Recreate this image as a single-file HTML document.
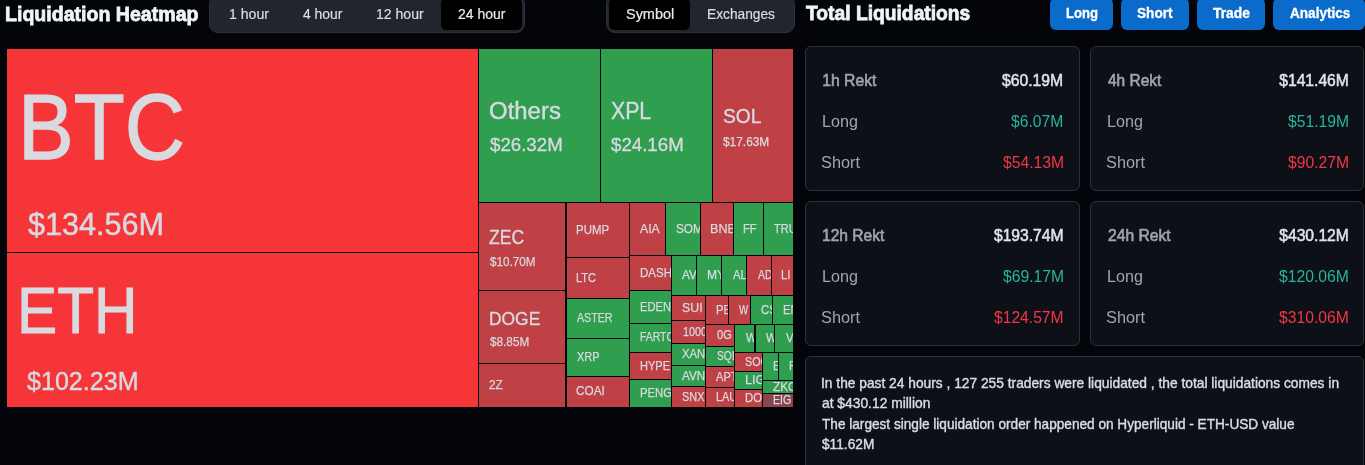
<!DOCTYPE html>
<html lang="en">
<head>
<meta charset="utf-8">
<title>Liquidation Heatmap</title>
<style>

html,body{margin:0;padding:0;background:#03050a;}
body{width:1365px;height:465px;overflow:hidden;font-family:"Liberation Sans",sans-serif;}
#page{position:relative;width:1365px;height:465px;overflow:hidden;background:#03050a;}
.t{position:absolute;display:block;white-space:pre;transform-origin:0 0;color:#d9dae0}

.h{color:#f0f4f8}
.tb{color:#dadde3}
.tb.on{color:#e8ebef}
.bt{color:#fff}
.tabs{position:absolute;top:-5.2px;height:38.1px;box-sizing:border-box;background:#22252c;border:1px solid #2e3138;border-radius:9px}
.tab{position:absolute;top:2px;height:32px;box-sizing:border-box;border-radius:5.5px}
.tab.on{background:#000}
#left,#right{position:absolute;left:0;top:0;width:0;height:0}
.hd{margin:0;font:inherit}
#tree{position:absolute;left:0;top:0;width:800px;height:465px}
.b{position:absolute;overflow:hidden}
.btn{position:absolute;top:-2.2px;height:32px;box-sizing:border-box;border-radius:6px;background:#0b6bcb;border:0;padding:0;margin:0;font:inherit;overflow:visible;cursor:pointer}
.card{position:absolute;height:144.5px;box-sizing:border-box;background:#0e1018;border:1px solid #2d3038;border-radius:6px;overflow:hidden}
.k{color:#9fa6ad}
.tv{color:#dfe2e6}
.g{color:#26b39a}
.r{color:#f23645}
.info{width:559px;height:130px}
.i{color:#dadde2}

</style>
</head>
<body>
<div id="page">
<div id="left">
<h2 class="hd"><span class="t h" style="left:5.44px;top:4.00px;font-size:20.75px;line-height:20.75px;transform:scaleX(0.9428);font-weight:700;-webkit-text-stroke-width:0.8px;">Liquidation Heatmap</span></h2>
<div class="tabs" id="tabs1" role="tablist" style="left:209.2px;width:315.7px"><div class="tab" role="tab" style="left:2.2px;width:73.5px"><span class="t tb" style="left:16.53px;top:9.20px;font-size:14.32px;line-height:14.32px;transform:scaleX(0.9850);-webkit-text-stroke-width:0.2px;">1 hour</span></div><div class="tab" role="tab" style="left:75.7px;width:73.9px"><span class="t tb" style="left:17.11px;top:9.20px;font-size:14.32px;line-height:14.32px;transform:scaleX(0.9707);-webkit-text-stroke-width:0.2px;">4 hour</span></div><div class="tab" role="tab" style="left:149.6px;width:81.2px"><span class="t tb" style="left:16.24px;top:9.20px;font-size:14.32px;line-height:14.32px;transform:scaleX(0.9823);-webkit-text-stroke-width:0.2px;">12 hour</span></div><div class="tab on" role="tab" style="left:230.8px;width:81.1px"><span class="t tb on" style="left:16.79px;top:9.20px;font-size:14.32px;line-height:14.32px;transform:scaleX(0.9749);-webkit-text-stroke-width:0.2px;">24 hour</span></div></div>
<div class="tabs" id="tabs2" role="tablist" style="left:606.0px;width:189.0px"><div class="tab on" role="tab" style="left:2.0px;width:81.0px"><span class="t tb on" style="left:17.04px;top:9.20px;font-size:14.32px;line-height:14.32px;transform:scaleX(1.0095);-webkit-text-stroke-width:0.2px;">Symbol</span></div><div class="tab" role="tab" style="left:83.0px;width:103.0px"><span class="t tb" style="left:16.69px;top:9.20px;font-size:14.32px;line-height:14.32px;transform:scaleX(0.9589);-webkit-text-stroke-width:0.2px;">Exchanges</span></div></div>
<div id="tree">
<div class="b" style="left:7px;top:49px;width:471px;height:203px;background:#f63538"><span class="t" style="left:11.00px;top:31.00px;font-size:93.51px;line-height:93.51px;transform:scaleX(0.8932);-webkit-text-stroke-width:1.3px;">BTC</span><span class="t" style="left:20.60px;top:160.00px;font-size:31.49px;line-height:31.49px;transform:scaleX(0.9712);-webkit-text-stroke-width:0.45px;">$134.56M</span></div>
<div class="b" style="left:7px;top:253px;width:471px;height:154px;background:#f63538"><span class="t" style="left:10.43px;top:25.00px;font-size:65.07px;line-height:65.07px;transform:scaleX(0.9254);-webkit-text-stroke-width:1.0px;">ETH</span><span class="t" style="left:20.33px;top:116.00px;font-size:25.88px;line-height:25.88px;transform:scaleX(0.9692);-webkit-text-stroke-width:0.4px;">$102.23M</span></div>
<div class="b" style="left:479px;top:49px;width:121px;height:153px;background:#2f9e4f"><span class="t" style="left:10.20px;top:51.00px;font-size:23.71px;line-height:23.71px;transform:scaleX(1.0102);-webkit-text-stroke-width:0.4px;">Others</span><span class="t" style="left:11.05px;top:87.00px;font-size:18.29px;line-height:18.29px;transform:scaleX(1.0220);-webkit-text-stroke-width:0.3px;">$26.32M</span></div>
<div class="b" style="left:601px;top:49px;width:111px;height:153px;background:#2f9e4f"><span class="t" style="left:9.85px;top:51.00px;font-size:23.42px;line-height:23.42px;transform:scaleX(0.9084);-webkit-text-stroke-width:0.4px;">XPL</span><span class="t" style="left:10.45px;top:87.00px;font-size:18.29px;line-height:18.29px;transform:scaleX(1.0220);-webkit-text-stroke-width:0.3px;">$24.16M</span></div>
<div class="b" style="left:713px;top:49px;width:80px;height:153px;background:#bf4045"><span class="t" style="left:9.79px;top:57.00px;font-size:20.42px;line-height:20.42px;transform:scaleX(0.9409);-webkit-text-stroke-width:0.35px;">SOL</span><span class="t" style="left:10.09px;top:87.00px;font-size:12.25px;line-height:12.25px;transform:scaleX(0.9705);-webkit-text-stroke-width:0.25px;">$17.63M</span></div>
<div class="b" style="left:479px;top:203px;width:86px;height:87px;background:#bf4045"><span class="t" style="left:10.43px;top:25.00px;font-size:19.41px;line-height:19.41px;transform:scaleX(0.9045);-webkit-text-stroke-width:0.35px;">ZEC</span><span class="t" style="left:11.00px;top:53.00px;font-size:12.1px;line-height:12.1px;transform:scaleX(0.9651);-webkit-text-stroke-width:0.25px;">$10.70M</span></div>
<div class="b" style="left:479px;top:291px;width:86px;height:72px;background:#bf4045"><span class="t" style="left:10.06px;top:19.00px;font-size:18.68px;line-height:18.68px;transform:scaleX(0.9320);-webkit-text-stroke-width:0.35px;">DOGE</span><span class="t" style="left:10.79px;top:45.00px;font-size:12.1px;line-height:12.1px;transform:scaleX(0.9723);-webkit-text-stroke-width:0.25px;">$8.85M</span></div>
<div class="b" style="left:479px;top:364px;width:86px;height:43px;background:#bf4045"><span class="t" style="left:10.02px;top:16.00px;font-size:11.96px;line-height:11.96px;transform:scaleX(0.9845);-webkit-text-stroke-width:0.25px;">2Z</span></div>
<div class="b" style="left:567px;top:203px;width:62px;height:54px;background:#bf4045"><span class="t" style="left:9.00px;top:22.00px;font-size:11.96px;line-height:11.96px;transform:scaleX(0.9565);-webkit-text-stroke-width:0.25px;">PUMP</span></div>
<div class="b" style="left:567px;top:258px;width:62px;height:40px;background:#bf4045"><span class="t" style="left:9.04px;top:15.00px;font-size:11.96px;line-height:11.96px;transform:scaleX(0.9163);-webkit-text-stroke-width:0.25px;">LTC</span></div>
<div class="b" style="left:567px;top:299px;width:62px;height:39px;background:#2f9e4f"><span class="t" style="left:9.86px;top:14.00px;font-size:11.96px;line-height:11.96px;transform:scaleX(0.8890);-webkit-text-stroke-width:0.25px;">ASTER</span></div>
<div class="b" style="left:567px;top:339px;width:62px;height:37px;background:#2f9e4f"><span class="t" style="left:9.64px;top:13.00px;font-size:11.96px;line-height:11.96px;transform:scaleX(0.9153);-webkit-text-stroke-width:0.25px;">XRP</span></div>
<div class="b" style="left:567px;top:377px;width:62px;height:30px;background:#bf4045"><span class="t" style="left:9.32px;top:9.00px;font-size:11.96px;line-height:11.96px;transform:scaleX(0.9858);-webkit-text-stroke-width:0.25px;">COAI</span></div>
<div class="b" style="left:630px;top:203px;width:35px;height:52px;background:#bf4045"><span class="t" style="left:10.25px;top:21.00px;font-size:11.96px;line-height:11.96px;transform:scaleX(1.0250);-webkit-text-stroke-width:0.25px;">AIA</span></div>
<div class="b" style="left:666px;top:203px;width:34px;height:52px;background:#2f9e4f"><span class="t" style="left:10.18px;top:21.00px;font-size:11.96px;line-height:11.96px;transform:scaleX(0.9858);-webkit-text-stroke-width:0.25px;">SOM</span></div>
<div class="b" style="left:701px;top:203px;width:32px;height:52px;background:#bf4045"><span class="t" style="left:9.31px;top:21.00px;font-size:11.96px;line-height:11.96px;transform:scaleX(1.0519);-webkit-text-stroke-width:0.25px;">BNB</span></div>
<div class="b" style="left:734px;top:203px;width:29px;height:52px;background:#2f9e4f"><span class="t" style="left:9.22px;top:21.00px;font-size:11.96px;line-height:11.96px;transform:scaleX(0.9364);-webkit-text-stroke-width:0.25px;">FF</span></div>
<div class="b" style="left:764px;top:203px;width:29px;height:52px;background:#2f9e4f"><span class="t" style="left:10.29px;top:21.00px;font-size:11.96px;line-height:11.96px;transform:scaleX(0.9237);-webkit-text-stroke-width:0.25px;">TRU</span></div>
<div class="b" style="left:630px;top:256px;width:41px;height:34px;background:#bf4045"><span class="t" style="left:10.09px;top:12.00px;font-size:11.96px;line-height:11.96px;transform:scaleX(0.9630);-webkit-text-stroke-width:0.25px;">DASH</span></div>
<div class="b" style="left:630px;top:291px;width:41px;height:32px;background:#2f9e4f"><span class="t" style="left:10.12px;top:11.00px;font-size:11.96px;line-height:11.96px;transform:scaleX(0.9343);-webkit-text-stroke-width:0.25px;">EDEN</span></div>
<div class="b" style="left:630px;top:324px;width:41px;height:28px;background:#2f9e4f"><span class="t" style="left:10.18px;top:8.00px;font-size:11.96px;line-height:11.96px;transform:scaleX(0.8713);-webkit-text-stroke-width:0.25px;">FARTC</span></div>
<div class="b" style="left:630px;top:353px;width:41px;height:26px;background:#bf4045"><span class="t" style="left:10.13px;top:8.00px;font-size:11.96px;line-height:11.96px;transform:scaleX(0.9221);-webkit-text-stroke-width:0.25px;">HYPE</span></div>
<div class="b" style="left:630px;top:380px;width:41px;height:27px;background:#2f9e4f"><span class="t" style="left:10.11px;top:8.00px;font-size:11.96px;line-height:11.96px;transform:scaleX(0.9475);-webkit-text-stroke-width:0.25px;">PENG</span></div>
<div class="b" style="left:672px;top:256px;width:24px;height:39px;background:#2f9e4f"><span class="t" style="left:9.85px;top:14.00px;font-size:11.96px;line-height:11.96px;transform:scaleX(0.9816);-webkit-text-stroke-width:0.25px;">AV</span></div>
<div class="b" style="left:697px;top:256px;width:24px;height:39px;background:#2f9e4f"><span class="t" style="left:9.95px;top:14.00px;font-size:11.96px;line-height:11.96px;transform:scaleX(1.0077);-webkit-text-stroke-width:0.25px;">MY</span></div>
<div class="b" style="left:722px;top:256px;width:24px;height:39px;background:#2f9e4f"><span class="t" style="left:10.86px;top:14.00px;font-size:11.96px;line-height:11.96px;transform:scaleX(0.9437);-webkit-text-stroke-width:0.25px;">AL</span></div>
<div class="b" style="left:747px;top:256px;width:24px;height:39px;background:#bf4045"><span class="t" style="left:10.76px;top:14.00px;font-size:11.96px;line-height:11.96px;transform:scaleX(0.8710);-webkit-text-stroke-width:0.25px;">AD</span></div>
<div class="b" style="left:772px;top:256px;width:21px;height:39px;background:#bf4045"><span class="t" style="left:9.01px;top:14.00px;font-size:11.96px;line-height:11.96px;transform:scaleX(0.9398);-webkit-text-stroke-width:0.25px;">LI</span></div>
<div class="b" style="left:672px;top:296px;width:33px;height:24px;background:#bf4045"><span class="t" style="left:9.56px;top:7.00px;font-size:11.96px;line-height:11.96px;transform:scaleX(1.0315);-webkit-text-stroke-width:0.25px;">SUI</span></div>
<div class="b" style="left:672px;top:321px;width:33px;height:22px;background:#bf4045"><span class="t" style="left:10.71px;top:6.00px;font-size:11.96px;line-height:11.96px;transform:scaleX(0.8966);-webkit-text-stroke-width:0.25px;">1000</span></div>
<div class="b" style="left:672px;top:344px;width:33px;height:21px;background:#2f9e4f"><span class="t" style="left:10.03px;top:5.00px;font-size:11.96px;line-height:11.96px;transform:scaleX(0.9465);-webkit-text-stroke-width:0.25px;">XAN</span></div>
<div class="b" style="left:672px;top:366px;width:33px;height:20px;background:#2f9e4f"><span class="t" style="left:10.25px;top:5.00px;font-size:11.96px;line-height:11.96px;transform:scaleX(0.9740);-webkit-text-stroke-width:0.25px;">AVN</span></div>
<div class="b" style="left:672px;top:387px;width:33px;height:20px;background:#bf4045"><span class="t" style="left:10.12px;top:5.00px;font-size:11.96px;line-height:11.96px;transform:scaleX(0.9149);-webkit-text-stroke-width:0.25px;">SNX</span></div>
<div class="b" style="left:706px;top:296px;width:22px;height:28px;background:#bf4045"><span class="t" style="left:10.40px;top:9.00px;font-size:11.96px;line-height:11.96px;transform:scaleX(0.9500);-webkit-text-stroke-width:0.25px;">PE</span></div>
<div class="b" style="left:729px;top:296px;width:21px;height:28px;background:#bf4045"><span class="t" style="left:9.76px;top:9.00px;font-size:11.96px;line-height:11.96px;transform:scaleX(0.8115);-webkit-text-stroke-width:0.25px;">W</span></div>
<div class="b" style="left:751px;top:296px;width:21px;height:28px;background:#2f9e4f"><span class="t" style="left:9.64px;top:9.00px;font-size:11.96px;line-height:11.96px;transform:scaleX(0.9500);-webkit-text-stroke-width:0.25px;">CS</span></div>
<div class="b" style="left:773px;top:296px;width:20px;height:28px;background:#2f9e4f"><span class="t" style="left:9.70px;top:9.00px;font-size:11.96px;line-height:11.96px;transform:scaleX(0.9500);-webkit-text-stroke-width:0.25px;">EN</span></div>
<div class="b" style="left:706px;top:325px;width:28px;height:21px;background:#bf4045"><span class="t" style="left:10.87px;top:5.00px;font-size:11.96px;line-height:11.96px;transform:scaleX(0.9235);-webkit-text-stroke-width:0.25px;">0G</span></div>
<div class="b" style="left:706px;top:347px;width:28px;height:19px;background:#2f9e4f"><span class="t" style="left:10.55px;top:4.00px;font-size:11.96px;line-height:11.96px;transform:scaleX(0.8623);-webkit-text-stroke-width:0.25px;">SQD</span></div>
<div class="b" style="left:706px;top:367px;width:28px;height:20px;background:#bf4045"><span class="t" style="left:10.46px;top:5.00px;font-size:11.96px;line-height:11.96px;transform:scaleX(0.9259);-webkit-text-stroke-width:0.25px;">APT</span></div>
<div class="b" style="left:706px;top:388px;width:28px;height:19px;background:#bf4045"><span class="t" style="left:10.14px;top:4.00px;font-size:11.96px;line-height:11.96px;transform:scaleX(0.9076);-webkit-text-stroke-width:0.25px;">LAU</span></div>
<div class="b" style="left:735px;top:325px;width:19px;height:27px;background:#2f9e4f"><span class="t" style="left:10.76px;top:8.00px;font-size:11.96px;line-height:11.96px;transform:scaleX(0.9500);-webkit-text-stroke-width:0.25px;">W</span></div>
<div class="b" style="left:756px;top:325px;width:18px;height:27px;background:#2f9e4f"><span class="t" style="left:9.76px;top:8.00px;font-size:11.96px;line-height:11.96px;transform:scaleX(0.9500);-webkit-text-stroke-width:0.25px;">W</span></div>
<div class="b" style="left:775px;top:325px;width:18px;height:27px;background:#2f9e4f"><span class="t" style="left:10.76px;top:8.00px;font-size:11.96px;line-height:11.96px;transform:scaleX(0.9500);-webkit-text-stroke-width:0.25px;">V</span></div>
<div class="b" style="left:735px;top:353px;width:27px;height:18px;background:#bf4045"><span class="t" style="left:10.33px;top:4.00px;font-size:11.96px;line-height:11.96px;transform:scaleX(0.8994);-webkit-text-stroke-width:0.25px;">SOO</span></div>
<div class="b" style="left:735px;top:372px;width:27px;height:17px;background:#2f9e4f"><span class="t" style="left:10.09px;top:3.00px;font-size:11.96px;line-height:11.96px;transform:scaleX(1.0656);-webkit-text-stroke-width:0.25px;">LIG</span></div>
<div class="b" style="left:735px;top:390px;width:27px;height:17px;background:#bf4045"><span class="t" style="left:10.20px;top:3.00px;font-size:11.96px;line-height:11.96px;transform:scaleX(0.9500);-webkit-text-stroke-width:0.25px;">DO</span></div>
<div class="b" style="left:763px;top:353px;width:15px;height:27px;background:#2f9e4f"><span class="t" style="left:10.20px;top:8.00px;font-size:11.96px;line-height:11.96px;transform:scaleX(0.9500);-webkit-text-stroke-width:0.25px;">E</span></div>
<div class="b" style="left:779px;top:353px;width:14px;height:27px;background:#2f9e4f"><span class="t" style="left:9.70px;top:8.00px;font-size:11.96px;line-height:11.96px;transform:scaleX(0.9500);-webkit-text-stroke-width:0.25px;">F</span></div>
<div class="b" style="left:763px;top:381px;width:30px;height:12px;background:#2f9e4f"><span class="t" style="left:10.16px;top:1.00px;font-size:11.96px;line-height:11.96px;transform:scaleX(0.9868);-webkit-text-stroke-width:0.25px;">ZKC</span></div>
<div class="b" style="left:763px;top:394px;width:30px;height:13px;background:#8b444e"><span class="t" style="left:10.36px;top:1.00px;font-size:11.96px;line-height:11.96px;transform:scaleX(0.8928);-webkit-text-stroke-width:0.25px;">EIG</span></div>
</div>
</div>
<div id="right">
<h2 class="hd"><span class="t h" style="left:805.82px;top:3.00px;font-size:20.75px;line-height:20.75px;transform:scaleX(0.9277);font-weight:700;-webkit-text-stroke-width:0.8px;">Total Liquidations</span></h2>
<button type="button" class="btn" style="left:1050px;width:63px"><span class="t bt" style="left:16.18px;top:8.20px;font-size:14.09px;line-height:14.09px;transform:scaleX(0.9319);font-weight:700;-webkit-text-stroke-width:0.3px;">Long</span></button>
<button type="button" class="btn" style="left:1121px;width:68px"><span class="t bt" style="left:15.83px;top:8.20px;font-size:14.09px;line-height:14.09px;transform:scaleX(0.9674);font-weight:700;-webkit-text-stroke-width:0.3px;">Short</span></button>
<button type="button" class="btn" style="left:1197px;width:68px"><span class="t bt" style="left:15.70px;top:8.20px;font-size:14.09px;line-height:14.09px;transform:scaleX(0.9850);font-weight:700;-webkit-text-stroke-width:0.3px;">Trade</span></button>
<button type="button" class="btn" style="left:1273px;width:92px"><span class="t bt" style="left:16.50px;top:8.20px;font-size:14.09px;line-height:14.09px;transform:scaleX(0.9646);font-weight:700;-webkit-text-stroke-width:0.3px;">Analytics</span></button>
<div class="card" style="left:805px;top:46px;width:275px"><span class="t k kt" style="left:16.29px;top:26.00px;font-size:15.71px;line-height:15.71px;-webkit-text-stroke-width:0.6px;">1h Rekt</span><span class="t k" style="left:15.71px;top:66.00px;font-size:16.23px;line-height:16.23px;transform:scaleX(0.9953);">Long</span><span class="t k" style="left:15.47px;top:107.00px;font-size:16.23px;line-height:16.23px;transform:scaleX(1.0058);">Short</span><span class="t tv" style="left:196.37px;top:26.00px;font-size:15.65px;line-height:15.65px;transform:scaleX(1.0030);-webkit-text-stroke-width:0.5px;">$60.19M</span><span class="t g" style="left:205.44px;top:66.00px;font-size:16.09px;line-height:16.09px;transform:scaleX(0.9730);">$6.07M</span><span class="t r" style="left:196.54px;top:107.00px;font-size:16.09px;line-height:16.09px;transform:scaleX(0.9764);">$54.13M</span></div>
<div class="card" style="left:1090px;top:46px;width:274px"><span class="t k kt" style="left:17.16px;top:26.00px;font-size:15.71px;line-height:15.71px;transform:scaleX(0.9838);-webkit-text-stroke-width:0.6px;">4h Rekt</span><span class="t k" style="left:15.71px;top:66.00px;font-size:16.23px;line-height:16.23px;transform:scaleX(0.9953);">Long</span><span class="t k" style="left:15.47px;top:107.00px;font-size:16.23px;line-height:16.23px;transform:scaleX(1.0058);">Short</span><span class="t tv" style="left:188.27px;top:26.00px;font-size:15.65px;line-height:15.65px;-webkit-text-stroke-width:0.5px;">$141.46M</span><span class="t g" style="left:197.04px;top:66.00px;font-size:16.09px;line-height:16.09px;transform:scaleX(0.9764);">$51.19M</span><span class="t r" style="left:197.04px;top:107.00px;font-size:16.09px;line-height:16.09px;transform:scaleX(0.9764);">$90.27M</span></div>
<div class="card" style="left:805px;top:201px;width:275px"><span class="t k kt" style="left:16.30px;top:26.00px;font-size:15.71px;line-height:15.71px;transform:scaleX(0.9915);-webkit-text-stroke-width:0.6px;">12h Rekt</span><span class="t k" style="left:15.71px;top:66.00px;font-size:16.23px;line-height:16.23px;transform:scaleX(0.9953);">Long</span><span class="t k" style="left:15.47px;top:107.00px;font-size:16.23px;line-height:16.23px;transform:scaleX(1.0058);">Short</span><span class="t tv" style="left:187.97px;top:26.00px;font-size:15.65px;line-height:15.65px;-webkit-text-stroke-width:0.5px;">$193.74M</span><span class="t g" style="left:196.54px;top:66.00px;font-size:16.09px;line-height:16.09px;transform:scaleX(0.9764);">$69.17M</span><span class="t r" style="left:188.04px;top:107.00px;font-size:16.09px;line-height:16.09px;transform:scaleX(0.9733);">$124.57M</span></div>
<div class="card" style="left:1090px;top:201px;width:274px"><span class="t k kt" style="left:16.69px;top:26.00px;font-size:15.71px;line-height:15.71px;transform:scaleX(0.9965);-webkit-text-stroke-width:0.6px;">24h Rekt</span><span class="t k" style="left:15.71px;top:66.00px;font-size:16.23px;line-height:16.23px;transform:scaleX(0.9953);">Long</span><span class="t k" style="left:15.47px;top:107.00px;font-size:16.23px;line-height:16.23px;transform:scaleX(1.0058);">Short</span><span class="t tv" style="left:188.27px;top:26.00px;font-size:15.65px;line-height:15.65px;-webkit-text-stroke-width:0.5px;">$430.12M</span><span class="t g" style="left:188.24px;top:66.00px;font-size:16.09px;line-height:16.09px;transform:scaleX(0.9776);">$120.06M</span><span class="t r" style="left:188.24px;top:107.00px;font-size:16.09px;line-height:16.09px;transform:scaleX(0.9776);">$310.06M</span></div>
<div class="card info" id="info" style="left:805px;top:356px"><span class="t i" style="left:15.08px;top:20.00px;font-size:13.86px;line-height:13.86px;transform:scaleX(0.9932);-webkit-text-stroke-width:0.4px;">In the past 24 hours , 127 255 traders were liquidated , the total liquidations comes in</span><span class="t i" style="left:15.76px;top:40.00px;font-size:13.86px;line-height:13.86px;transform:scaleX(0.9972);-webkit-text-stroke-width:0.4px;">at $430.12 million</span><span class="t i" style="left:15.94px;top:61.00px;font-size:13.86px;line-height:13.86px;transform:scaleX(0.9829);-webkit-text-stroke-width:0.4px;">The largest single liquidation order happened on Hyperliquid - ETH-USD value</span><span class="t i" style="left:16.14px;top:81.00px;font-size:13.86px;line-height:13.86px;transform:scaleX(0.9886);-webkit-text-stroke-width:0.4px;">$11.62M</span></div>
</div>
</div>
</body>
</html>
